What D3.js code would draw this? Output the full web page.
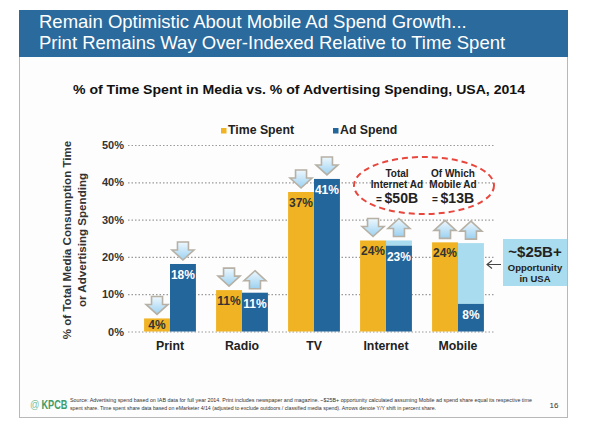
<!DOCTYPE html>
<html>
<head>
<meta charset="utf-8">
<script src="https://cdn.jsdelivr.net/npm/d3@7"></script>
<style>
  body { margin: 0; background: #fff; }
  svg { display: block; font-family: "Liberation Sans", Arial, sans-serif; }
</style>
</head>
<body>
<div id="chart"></div>
<script>
// values (percent share, USA 2014)
var categories = ['Print', 'Radio', 'TV', 'Internet', 'Mobile'];
var timeSpent = [3.5, 11.1, 37.4, 24.4, 23.9];
var adSpend = [18.1, 10.4, 40.9, 23.0, 7.4];
var adGap = [null, null, null, 24.4, 23.7];
var timeLabels = ['4%', '11%', '37%', '24%', '24%'];
var adLabels = ['18%', '11%', '41%', '23%', '8%'];
var timeShift = ['down', 'down', 'down', 'down', 'up'];
var adShift = ['down', 'up', 'down', 'up', 'up'];
var yTicks = [0, 10, 20, 30, 40, 50];
var seriesNames = ['Time Spent', 'Ad Spend'];

(function() {
  var W = 609, H = 436;
  var yellow = '#f0b323', blue = '#23669c', light = '#a9dcee', dark = '#333';

  var svg = d3.select('#chart').append('svg').attr('width', W).attr('height', H);
  var defs = svg.append('defs');
  var grad = defs.append('linearGradient').attr('id', 'arrowFill')
    .attr('x1', 0).attr('y1', 0).attr('x2', 0).attr('y2', 1);
  grad.append('stop').attr('offset', '0%').attr('stop-color', '#eef8fe');
  grad.append('stop').attr('offset', '100%').attr('stop-color', '#9bd1f1');

  // slide frame + header
  svg.append('rect').attr('x', 19.5).attr('y', 10.5).attr('width', 548).attr('height', 407)
    .attr('fill', '#fdfdfd').attr('stroke', '#b8b8b8');
  svg.append('rect').attr('x', 19).attr('y', 10).attr('width', 549).attr('height', 47)
    .attr('fill', '#2a6a9c');
  svg.append('text').attr('x', 39).attr('y', 27.5).attr('fill', '#fff')
    .attr('font-size', 18.5).text('Remain Optimistic About Mobile Ad Spend Growth...');
  svg.append('text').attr('x', 39).attr('y', 48.5).attr('fill', '#fff')
    .attr('font-size', 18.5).text('Print Remains Way Over-Indexed Relative to Time Spent');

  svg.append('text').attr('x', 73).attr('y', 94)
    .attr('font-size', 13.5).attr('font-weight', 'bold').attr('fill', '#111')
    .attr('textLength', 452).attr('lengthAdjust', 'spacingAndGlyphs')
    .text('% of Time Spent in Media vs. % of Advertising Spending, USA, 2014');

  // scales
  var x = d3.scaleBand().domain(categories).range([134, 494]).paddingInner(0.28).paddingOuter(0.14);
  var x1 = d3.scaleBand().domain(['time', 'ad']).range([0, x.bandwidth()]);
  var y = d3.scaleLinear().domain([0, 50]).range([331.5, 145]);

  // gridlines + tick labels
  var yAxis = d3.axisLeft(y).tickValues(yTicks).tickSize(0).tickPadding(0)
    .tickFormat(function(d) { return d + '%'; });
  var ga = svg.append('g').attr('transform', 'translate(124,0)').call(yAxis);
  ga.select('.domain').remove();
  ga.selectAll('text').attr('font-size', 11).attr('font-weight', 'bold').attr('fill', dark)
    .attr('font-family', '"Liberation Sans", Arial, sans-serif');
  svg.append('g').selectAll('line').data(yTicks).enter().append('line')
    .attr('x1', 128).attr('x2', 494)
    .attr('y1', function(d) { return y(d) + 0.5; }).attr('y2', function(d) { return y(d) + 0.5; })
    .attr('stroke', '#9a9a9a').attr('stroke-width', 1.2).attr('stroke-dasharray', '1.5,2');

  // y title
  var yt = svg.append('text').attr('transform', 'translate(0,240) rotate(-90)')
    .attr('text-anchor', 'middle').attr('font-size', 11.6).attr('font-weight', 'bold').attr('fill', dark);
  yt.append('tspan').attr('x', 0).attr('y', 71).text('% of Total Media Consumption Time');
  yt.append('tspan').attr('x', 0).attr('y', 85.5).text('or Advertising Spending');

  // legend
  var leg = svg.append('g');
  [[221, yellow, seriesNames[0]], [333, blue, seriesNames[1]]].forEach(function(l) {
    leg.append('rect').attr('x', l[0]).attr('y', 128).attr('width', 5.5).attr('height', 5.5).attr('fill', l[1]);
    leg.append('text').attr('x', l[0] + 7).attr('y', 133.5).attr('font-size', 12.3)
      .attr('font-weight', 'bold').attr('fill', '#222').text(l[2]);
  });

  var rows = categories.map(function(c, i) {
    return { cat: c, time: timeSpent[i], ad: adSpend[i], gap: adGap[i],
      tl: timeLabels[i], al: adLabels[i], ts: timeShift[i], as: adShift[i] };
  });

  var g = svg.append('g').selectAll('g').data(rows).enter().append('g')
    .attr('transform', function(d) { return 'translate(' + x(d.cat) + ',0)'; });

  g.append('rect').attr('x', x1('time')).attr('width', x1.bandwidth())
    .attr('y', function(d) { return y(d.time); })
    .attr('height', function(d) { return y(0) - y(d.time); }).attr('fill', yellow);
  g.filter(function(d) { return d.gap != null; }).append('rect')
    .attr('x', x1('ad')).attr('width', x1.bandwidth())
    .attr('y', function(d) { return y(d.gap); })
    .attr('height', function(d) { return y(d.ad) - y(d.gap); }).attr('fill', light);
  g.append('rect').attr('x', x1('ad')).attr('width', x1.bandwidth())
    .attr('y', function(d) { return y(d.ad); })
    .attr('height', function(d) { return y(0) - y(d.ad); }).attr('fill', blue);

  function labelY(v) { return Math.min(y(v) + 15, y(0) - 2.5); }
  g.append('text').attr('x', x1('time') + x1.bandwidth() / 2).attr('y', function(d) { return labelY(d.time); })
    .attr('text-anchor', 'middle').attr('font-size', 12).attr('font-weight', 'bold').attr('fill', dark)
    .text(function(d) { return d.tl; });
  g.append('text').attr('x', x1('ad') + x1.bandwidth() / 2).attr('y', function(d) { return labelY(d.ad); })
    .attr('text-anchor', 'middle').attr('font-size', 12).attr('font-weight', 'bold').attr('fill', '#fff')
    .text(function(d) { return d.al; });

  // y/y shift arrows
  function arrowPath(dir) {
    var w = 11, s = 5.5, h = 18, sh = 8;
    if (dir === 'down') {
      return 'M' + (-s) + ',0 L' + s + ',0 L' + s + ',' + sh + ' L' + w + ',' + sh +
        ' L0,' + h + ' L' + (-w) + ',' + sh + ' L' + (-s) + ',' + sh + 'Z';
    }
    return 'M0,0 L' + w + ',' + (h - sh) + ' L' + s + ',' + (h - sh) + ' L' + s + ',' + h +
      ' L' + (-s) + ',' + h + ' L' + (-s) + ',' + (h - sh) + ' L' + (-w) + ',' + (h - sh) + 'Z';
  }
  function addArrow(key, dirKey, topFn) {
    g.append('path')
      .attr('transform', function(d) {
        return 'translate(' + (x1(key) + x1.bandwidth() / 2) + ',' + (topFn(d) - 22) + ')';
      })
      .attr('d', function(d) { return arrowPath(d[dirKey]); })
      .attr('fill', 'url(#arrowFill)').attr('stroke', '#b7b0a4').attr('stroke-width', 1.6)
      .attr('stroke-linejoin', 'miter');
  }
  addArrow('time', 'ts', function(d) { return y(d.time); });
  addArrow('ad', 'as', function(d) { return y(d.gap != null ? Math.max(d.gap, d.ad) : d.ad); });

  // category labels
  svg.append('g').selectAll('text').data(categories).enter().append('text')
    .attr('x', function(d) { return x(d) + x.bandwidth() / 2; }).attr('y', 349.5)
    .attr('text-anchor', 'middle').attr('font-size', 12.3).attr('font-weight', 'bold').attr('fill', '#222')
    .text(function(d) { return d; });

  // dashed callout
  svg.append('ellipse').attr('cx', 424).attr('cy', 185.5).attr('rx', 70).attr('ry', 28.5)
    .attr('fill', 'none').attr('stroke', '#e8473e').attr('stroke-width', 2).attr('stroke-dasharray', '6,4');
  [[397, ['Total', 'Internet Ad'], '$50B'], [453, ['Of Which', 'Mobile Ad'], '$13B']].forEach(function(c) {
    var t = svg.append('text').attr('text-anchor', 'middle').attr('font-weight', 'bold').attr('fill', '#222');
    t.append('tspan').attr('x', c[0]).attr('y', 176.5).attr('font-size', 10).text(c[1][0]);
    t.append('tspan').attr('x', c[0]).attr('y', 188).attr('font-size', 10).text(c[1][1]);
    var t2 = svg.append('text').attr('x', c[0]).attr('y', 203).attr('text-anchor', 'middle')
      .attr('font-weight', 'bold').attr('fill', '#222');
    t2.append('tspan').attr('font-size', 10).text('= ');
    t2.append('tspan').attr('font-size', 14).text(c[2]);
  });

  // opportunity box
  svg.append('rect').attr('x', 503).attr('y', 239).attr('width', 64).attr('height', 47).attr('fill', light);
  svg.append('text').attr('x', 535).attr('y', 257).attr('text-anchor', 'middle')
    .attr('font-size', 15).attr('font-weight', 'bold').attr('fill', '#222').text('~$25B+');
  svg.append('text').attr('x', 535).attr('y', 271).attr('text-anchor', 'middle')
    .attr('font-size', 9.5).attr('font-weight', 'bold').attr('fill', '#222').text('Opportunity');
  svg.append('text').attr('x', 535).attr('y', 281.5).attr('text-anchor', 'middle')
    .attr('font-size', 9.5).attr('font-weight', 'bold').attr('fill', '#222').text('in USA');
  svg.append('path').attr('d', 'M501,264.5 L487,264.5 M492,260.5 L487,264.5 L492,268.5')
    .attr('fill', 'none').attr('stroke', '#444').attr('stroke-width', 1.1);

  // footer
  svg.append('text').attr('transform', 'translate(30,408) scale(0.85,1)').attr('fill', '#7cbf96')
    .attr('font-size', 11).text('@');
  svg.append('text').attr('transform', 'translate(41.5,408.5) scale(0.68,1)').attr('fill', '#3f9c68')
    .attr('font-weight', 'bold').attr('font-size', 13.5).text('KPCB');
  svg.append('text').attr('x', 70).attr('y', 402).attr('font-size', 5.2).attr('fill', '#333')
    .attr('textLength', 462).attr('lengthAdjust', 'spacingAndGlyphs')
    .text('Source: Advertising spend based on IAB data for full year 2014. Print includes newspaper and magazine. ~$25B+ opportunity calculated assuming Mobile ad spend share equal its respective time');
  svg.append('text').attr('x', 70).attr('y', 410).attr('font-size', 5.2).attr('fill', '#333')
    .attr('textLength', 366).attr('lengthAdjust', 'spacingAndGlyphs')
    .text('spent share. Time spent share data based on eMarketer 4/14 (adjusted to exclude outdoors / classified media spend). Arrows denote Y/Y shift in percent share.');
  svg.append('text').attr('x', 554).attr('y', 408).attr('text-anchor', 'middle')
    .attr('font-size', 8).attr('fill', '#333').text('16');
})();
</script>
</body>
</html>
